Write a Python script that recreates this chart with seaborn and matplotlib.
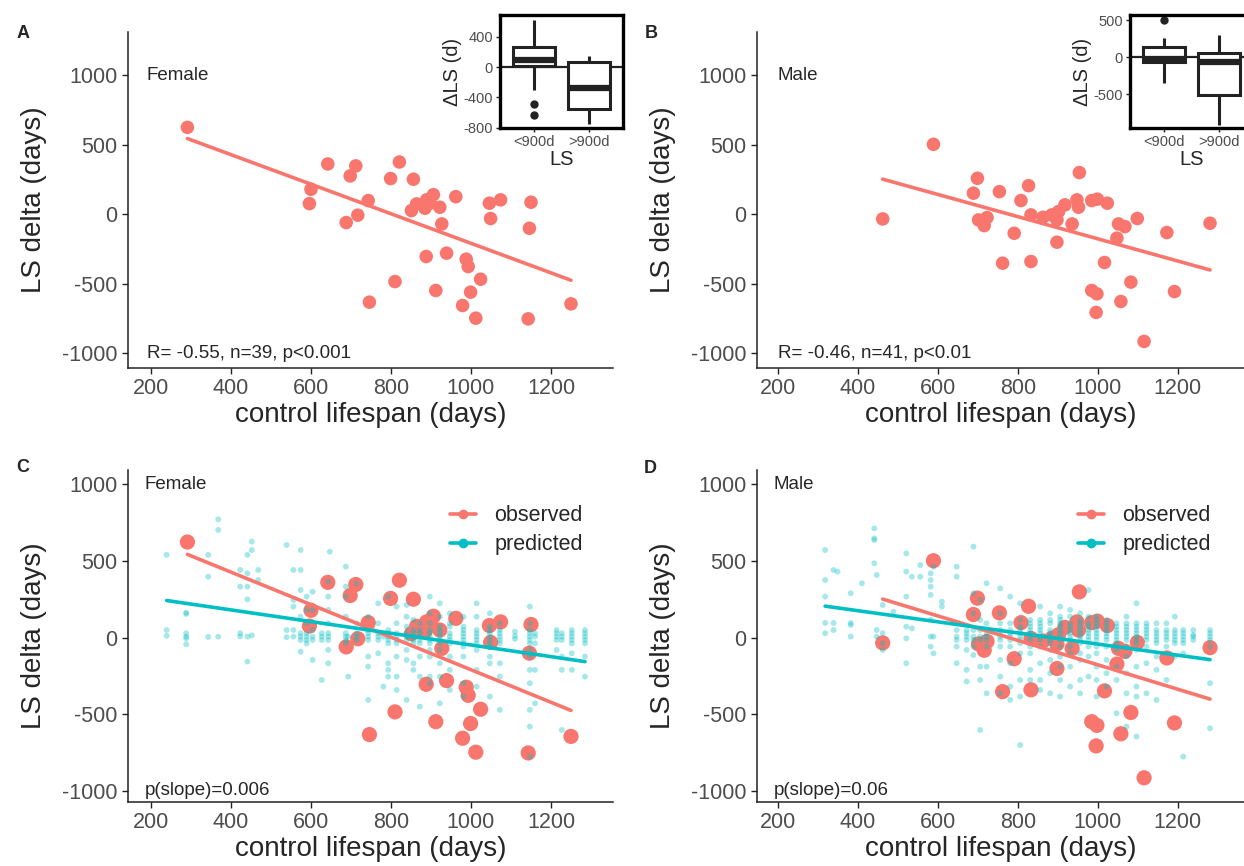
import matplotlib
matplotlib.use("Agg")
import matplotlib.pyplot as plt
import seaborn as sns
import pandas as pd
from matplotlib.lines import Line2D

sns.set_theme(style="ticks")
plt.rcParams['font.family'] = ['Liberation Sans', 'DejaVu Sans']
plt.rcParams['axes.unicode_minus'] = False

RED = "#F8766D"
TEAL = "#00BFC4"
GREY = "#4D4D4D"
DARK = "#222222"

# ---------------- observed data ----------------
female_ls = [291, 642, 712, 698, 821, 799, 856, 600, 596, 743, 688, 717, 906, 889, 864, 851, 885, 922,
             927, 962, 1046, 1074, 1049, 1150, 1146, 888, 939, 988, 993, 1024, 810, 912, 999, 746, 979,
             1012, 1143, 1250, 898]
female_delta = [624, 361, 347, 275, 375, 256, 251, 179, 76, 98, -60, -7, 140, 103, 74, 26, 43, 50,
                -70, 126, 79, 103, -31, 86, -101, -304, -280, -323, -376, -467, -484, -548, -560, -632, -656,
                -747, -752, -644, 79]
male_ls = [589, 462, 699, 689, 754, 827, 808, 954, 702, 723, 716, 833, 863, 902, 918, 898, 948, 952, 985,
           999, 1024, 936, 791, 898, 1052, 1068, 1099, 1048, 1173, 1281, 762, 833, 1017, 1083, 985, 998,
           1058, 1192, 996, 1116, 885]
male_delta = [502, -34, 258, 151, 162, 205, 98, 299, -41, -24, -82, -5, -22, 19, 67, -41, 103, 50, 98,
              108, 79, -70, -137, -201, -70, -89, -31, -172, -132, -65, -352, -340, -347, -488, -548, -572,
              -627, -556, -706, -914, -5]

# ---------------- predicted data (control lifespan, predicted LS deltas) ----------------
pred_female = [
    (239, [540, 50, 12]),
    (288, [163, 155, 29, 7, -4, -43]),
    (343, [540, 398, 5]),
    (368, [772, 703, 7]),
    (423, [442, 333, 29, 8]),
    (441, [540, 420, 333, 250, 7, -156]),
    (452, [627, 572, 15]),
    (468, [442, 377]),
    (539, [605, 50, 3]),
    (556, [442, 246, 203, 50, 7]),
    (574, [572, 442, 311, 137, 29, 7, -15, -91]),
    (589, [268, 181, 94, 29, 7, -15, -37]),
    (604, [300, 181, 50, 7, -15, -145]),
    (627, [29, 7, -15, -276]),
    (643, [366, 268, 181, 94, 29, 7, -15, -80, -167]),
    (647, [561]),
    (687, [464, 333, 268, 137, 29, 7, -15, -37]),
    (693, [7, -254]),
    (714, [355, 94, 29, 7, -15]),
    (743, [137, 50, 29, 7, -15, -123, -189, -406]),
    (768, [224, 94, 29, 7, -15, -102]),
    (781, [7, -319]),
    (793, [268, 50, 29, 7, -15, -37, -167, -210, -254]),
    (814, [203, 94, 29, 7, -15, -37, -123, -254, -341]),
    (839, [214, 137, 72, 29, 7, -15, -80, -145, -406]),
    (856, [116, 50, 29, 7, -15, -37, -167, -210]),
    (872, [94, 50, 29, 7, -15, -37, -123, -254, -450]),
    (897, [268, 159, 94, 50, 29, 7, -15, -37, -80, -123, -254, -297]),
    (922, [224, 137, 72, 50, 29, 7, -15, -37, -80, -167, -254, -428]),
    (947, [159, 94, 72, 29, 7, -15, -37, -123, -210, -341]),
    (981, [137, 72, 50, 29, 7, -15, -37, -58, -123, -297, -384]),
    (1014, [224, 137, 50, 29, 7, -15, -37, -80, -210, -319]),
    (1047, [159, 72, 50, 29, 7, -15, -37, -58, -123, -167, -384]),
    (1072, [94, 50, 29, 7, -15, -37, -167, -254, -471]),
    (1110, [40, 12, -8]),
    (1147, [203, 94, 50, 29, 7, -15, -37, -80, -123, -210, -297, -471, -580, -776]),
    (1160, [29, 7, -37, -210, -428]),
    (1214, [50, 29, 7, -15, -80]),
    (1227, [29, 7, -15, -123, -210, -602]),
    (1252, [50, 29, 7, -15, -37, -102, -210]),
    (1285, [50, 29, 7, -15, -37, -123, -254]),
]
pred_male = [
    (318, [572, 376, 268, 96, 29]),
    (339, [442, 96, 50]),
    (349, [431]),
    (382, [290, 96, 83, 7]),
    (410, [355]),
    (441, [713, 648, 637, 485]),
    (447, [409, 50, 7]),
    (462, [213, 29, -36, -80]),
    (489, [170]),
    (521, [550, 431, 268, 72, -4, -167]),
    (535, [398, 61]),
    (556, [474, 398]),
    (582, [420, 376, 333, 279, 116, 7, -58]),
    (589, [463, 7, -102]),
    (610, [235, 203]),
    (647, [463, 398, 50, 7, -15, -58, -167]),
    (672, [50, 29, 7, -15, -80, -210, -286]),
    (689, [594, 290, 159, 50, 7, -15, -58, -113]),
    (706, [246, 116, 50, 7, -15, -189, -276, -602]),
    (722, [355, 94, 29, 7, -15, -58, -189, -363]),
    (756, [322, 159, 94, 50, 29, 7, -15, -58, -145, -254, -363]),
    (781, [268, 94, 50, 29, 7, -15, -58, -167, -319, -406]),
    (806, [224, 116, 72, 50, 29, 7, -15, -36, -102, -276, -384, -700]),
    (831, [116, 94, 72, 50, 29, 7, -15, -58, -102, -210, -276]),
    (856, [203, 116, 94, 72, 50, 29, 7, -15, -58, -167, -276, -341]),
    (881, [159, 116, 94, 50, 29, 7, -15, -36, -80, -145, -232, -363]),
    (906, [203, 137, 116, 94, 72, 50, 29, 7, -15, -58, -123, -189, -276, -384]),
    (931, [181, 137, 94, 72, 50, 29, 7, -15, -58, -102, -189, -319]),
    (956, [159, 116, 94, 72, 50, 29, 7, -15, -36, -102, -145, -276, -363]),
    (977, [311, 137, 94, 72, 50, 29, 7, -15, -58, -123, -254]),
    (997, [137, 116, 94, 72, 50, 29, 7, -15, -58, -102, -189, -276, -384]),
    (1022, [116, 94, 72, 50, 29, 7, -15, -58, -145, -232, -319]),
    (1047, [94, 72, 50, 29, 7, -15, -36, -80, -189, -276, -493]),
    (1072, [137, 94, 72, 50, 29, 7, -15, -58, -123, -232, -363, -580]),
    (1097, [224, 94, 72, 50, 29, 7, -15, -36, -80, -189, -319, -384, -645]),
    (1122, [94, 72, 50, 29, 7, -15, -58, -167, -363]),
    (1147, [94, 50, 29, 7, -15, -36, -123, -210, -406]),
    (1172, [94, 50, 29, 7, -15, -58, -276]),
    (1193, [137, 50, 29, 7, -15, -36, -123]),
    (1214, [50, 29, 7, -15, -36, -102, -776]),
    (1239, [50, 18, 7, -15]),
    (1281, [50, 29, 7, -15, -58, -297, -591]),
]

inset_groups = ["<900d", ">900d"]


def expand(table):
    xs, ys = [], []
    for x, vals in table:
        for v in vals:
            xs.append(x)
            ys.append(v)
    return pd.DataFrame({"ls": xs, "delta": ys})


obs_f = pd.DataFrame({"ls": female_ls, "delta": female_delta})
obs_m = pd.DataFrame({"ls": male_ls, "delta": male_delta})
for d in (obs_f, obs_m):
    d["grp"] = [inset_groups[0] if v < 900 else inset_groups[1] for v in d["ls"]]
prd_f = expand(pred_female)
prd_m = expand(pred_male)

W, H = 1244, 866
fig = plt.figure(figsize=(W / 100, H / 100), dpi=100)


def add_ax(l, t, r, b):
    return fig.add_axes([l / W, 1 - b / H, (r - l) / W, (b - t) / H])


axA = add_ax(128, 32, 613, 368)
axB = add_ax(757, 32, 1244, 368)
axC = add_ax(128, 470, 613, 802)
axD = add_ax(757, 470, 1244, 802)


def style_main(ax, xlim, ylim):
    sns.despine(ax=ax)
    for s in ("left", "bottom"):
        ax.spines[s].set_linewidth(1.1)
        ax.spines[s].set_color(DARK)
    ax.set_xlim(*xlim)
    ax.set_ylim(*ylim)
    ax.set_xticks([200, 400, 600, 800, 1000, 1200])
    ax.set_yticks([-1000, -500, 0, 500, 1000])
    ax.tick_params(axis="both", labelsize=15.5, labelcolor=GREY, color=DARK, length=4, width=1)
    ax.set_xlabel("control lifespan (days)", fontsize=20, labelpad=2)
    ax.set_ylabel("LS delta (days)", fontsize=20, labelpad=11)


# ---- A & B ----
for ax, obs, lab, stat, xlim, tx in [
    (axA, obs_f, "Female", "R= -0.55, n=39, p<0.001", (142.5, 1355), 190),
    (axB, obs_m, "Male", "R= -0.46, n=41, p<0.01", (147.5, 1366), 200),
]:
    sns.scatterplot(data=obs, x="ls", y="delta", ax=ax, color=RED, s=95, edgecolor="none",
                    legend=False, zorder=3)
    sns.regplot(data=obs, x="ls", y="delta", ax=ax, scatter=False, ci=None, color=RED,
                line_kws=dict(lw=2.6, zorder=4))
    style_main(ax, xlim, (-1105, 1309))
    ax.text(tx, 1000, lab, fontsize=13.5, ha="left", va="center")
    ax.text(tx, -1000, stat, fontsize=13.5, ha="left", va="center")

# ---- C & D ----
for ax, obs, prd, lab, stat, xlim, tx, anchor in [
    (axC, obs_f, prd_f, "Female", "p(slope)=0.006", (142.5, 1355), 185, (0.955, 0.92)),
    (axD, obs_m, prd_m, "Male", "p(slope)=0.06", (147.5, 1366), 190, (0.95, 0.92)),
]:
    sns.scatterplot(data=obs, x="ls", y="delta", ax=ax, color=RED, s=120, edgecolor="none",
                    legend=False, zorder=2)
    sns.scatterplot(data=prd, x="ls", y="delta", ax=ax, color=TEAL, s=18, alpha=0.35,
                    edgecolor="none", legend=False, zorder=3)
    sns.regplot(data=obs, x="ls", y="delta", ax=ax, scatter=False, ci=None, color=RED,
                line_kws=dict(lw=2.6, zorder=4))
    sns.regplot(data=prd, x="ls", y="delta", ax=ax, scatter=False, ci=None, color=TEAL,
                line_kws=dict(lw=2.6, zorder=5))
    style_main(ax, xlim, (-1072, 1094))
    ax.text(tx, 1000, lab, fontsize=13.5, ha="left", va="center")
    ax.text(tx, -1000, stat, fontsize=13.5, ha="left", va="center")
    handles = [Line2D([], [], color=RED, lw=2.6, marker="o", ms=6),
               Line2D([], [], color=TEAL, lw=2.6, marker="o", ms=6)]
    ax.legend(handles, ["observed", "predicted"], frameon=False, fontsize=15.5, loc="upper right",
              bbox_to_anchor=anchor, borderaxespad=0, handlelength=1.2, handletextpad=0.85,
              labelspacing=0.38)

# ---- insets ----
for rect, obs, ylim, yt in [
    ((500, 15, 623, 128), obs_f, (-804, 686), [-800, -400, 0, 400]),
    ((1130, 15, 1253, 128), obs_m, (-959, 568), [-500, 0, 500]),
]:
    ai = add_ax(*rect)
    ai.axhline(0, color=DARK, lw=1.6, zorder=0)
    sns.boxplot(data=obs, x="grp", y="delta", order=inset_groups, ax=ai, color="white",
                linecolor=DARK, linewidth=2.2, width=0.75, showcaps=False, fliersize=5,
                flierprops=dict(marker="o", markerfacecolor=DARK, markeredgecolor=DARK),
                medianprops=dict(linewidth=4.5, color=DARK))
    ai.set_xlim(-0.6, 1.6)
    ai.set_ylim(*ylim)
    ai.set_yticks(yt)
    for s in ai.spines.values():
        s.set_linewidth(2.4)
        s.set_color("black")
    ai.tick_params(axis="both", labelsize=10.5, labelcolor=GREY, color=DARK, length=3, width=1, pad=2)
    ai.set_xlabel("LS", fontsize=14.5, labelpad=1)
    ai.set_ylabel("\u0394LS (d)", fontsize=14.5, labelpad=1)

# panel letters
for x, y, t in [(23, 34, "A"), (651, 33, "B"), (23, 467, "C"), (650, 468, "D")]:
    fig.text(x / W, 1 - y / H, t, fontsize=13, fontweight="bold", ha="center", va="center")

fig.savefig("out.png", dpi=100)
